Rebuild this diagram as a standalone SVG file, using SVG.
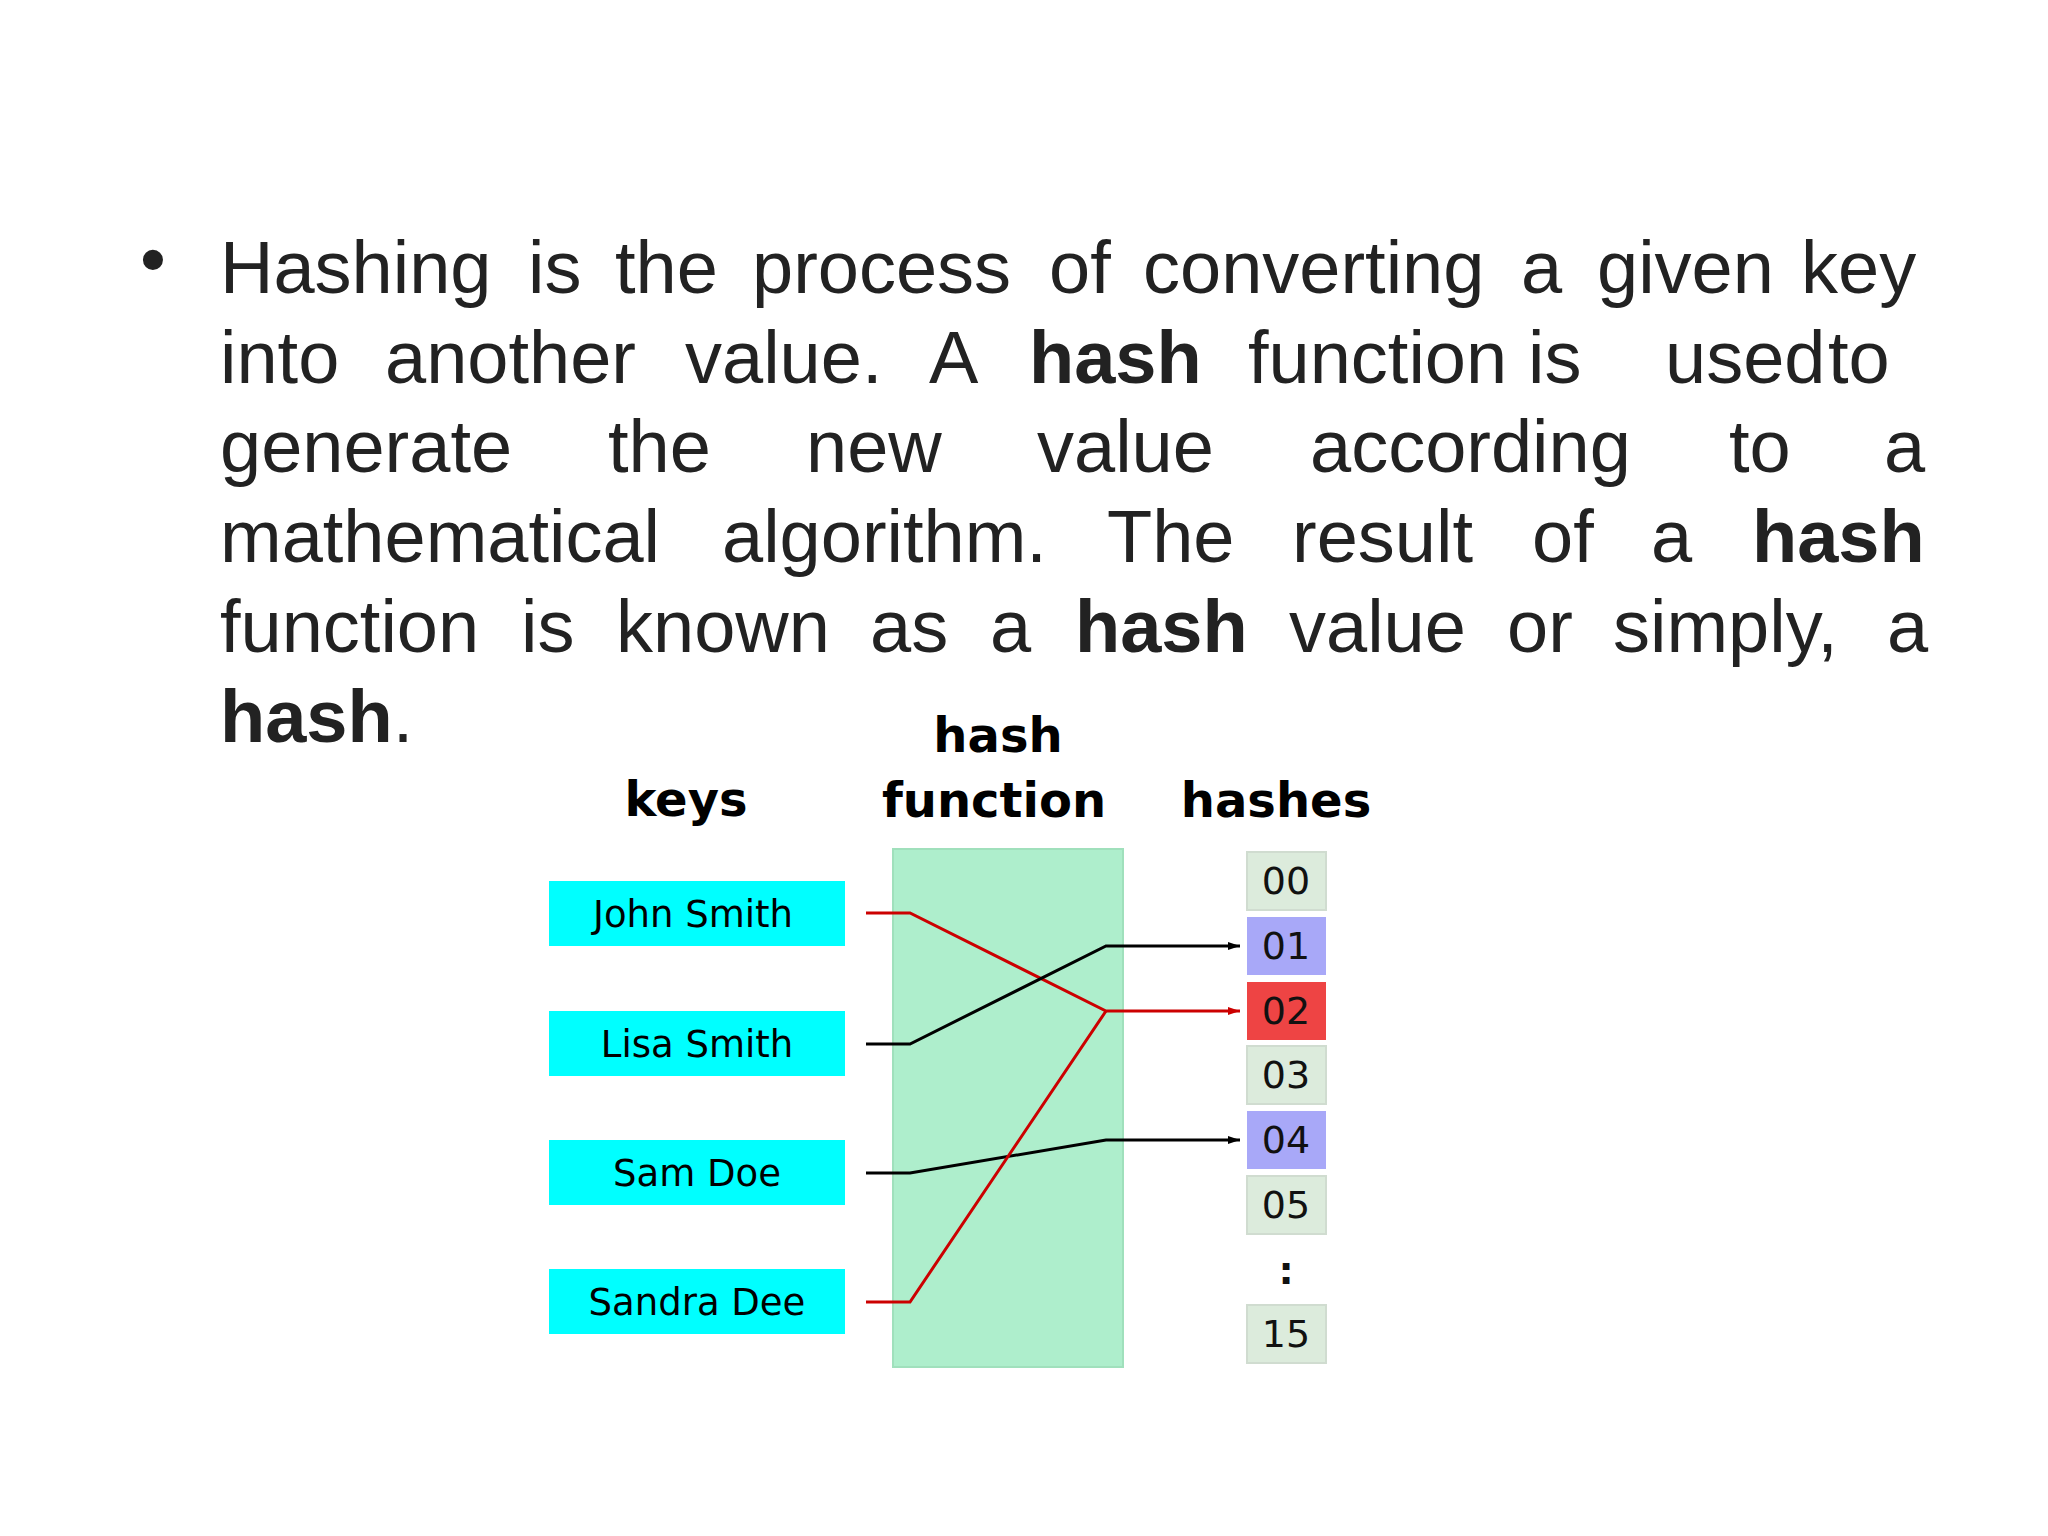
<svg xmlns="http://www.w3.org/2000/svg" width="2048" height="1536" viewBox="0 0 2048 1536">
<style>
.p{font-family:"Liberation Sans",Arial,sans-serif;font-size:74px;fill:#222}
.b{font-weight:bold}
.h{font-family:"DejaVu Sans",sans-serif;font-weight:bold;font-size:48px;fill:#000;text-anchor:middle}
.k{fill:#00ffff}
.kt{font-family:"DejaVu Sans",sans-serif;font-size:37px;fill:#000;text-anchor:middle}
.c{stroke:#d0dcd0;stroke-width:2}
.ct{font-family:"DejaVu Sans",sans-serif;font-size:38px;fill:#111;text-anchor:middle}
.bl{fill:none;stroke:#000;stroke-width:3}
.rd{fill:none;stroke:#cc0000;stroke-width:3}
</style>
<defs>
<marker id="ab" markerWidth="12" markerHeight="8" refX="12" refY="4" orient="auto" markerUnits="userSpaceOnUse" viewBox="0 0 12 8"><path d="M0,0L12,4L0,8z" fill="#000"/></marker>
<marker id="ar" markerWidth="12" markerHeight="8" refX="12" refY="4" orient="auto" markerUnits="userSpaceOnUse" viewBox="0 0 12 8"><path d="M0,0L12,4L0,8z" fill="#cc0000"/></marker>
</defs>
<rect width="2048" height="1536" fill="#fff"/>
<g id="paragraph" class="p">
<text x="140" y="285">•</text>
<text y="293"><tspan x="220">Hashing</tspan><tspan x="528">is</tspan><tspan x="615">the</tspan><tspan x="752">process</tspan><tspan x="1049">of</tspan><tspan x="1143">converting</tspan><tspan x="1521">a</tspan><tspan x="1597">given</tspan><tspan x="1801">key</tspan></text>
<text y="383"><tspan x="220">into</tspan><tspan x="385">another</tspan><tspan x="685">value.</tspan><tspan x="929">A</tspan><tspan x="1029" class="b">hash</tspan><tspan x="1248">function</tspan><tspan x="1528">is</tspan><tspan x="1665">used</tspan><tspan x="1828">to</tspan></text>
<text y="472"><tspan x="220">generate</tspan><tspan x="608">the</tspan><tspan x="806">new</tspan><tspan x="1037">value</tspan><tspan x="1310">according</tspan><tspan x="1729">to</tspan><tspan x="1884">a</tspan></text>
<text y="562"><tspan x="220">mathematical</tspan><tspan x="722">algorithm.</tspan><tspan x="1107">The</tspan><tspan x="1292">result</tspan><tspan x="1532">of</tspan><tspan x="1651">a</tspan><tspan x="1752" class="b">hash</tspan></text>
<text y="652"><tspan x="220">function</tspan><tspan x="521">is</tspan><tspan x="616">known</tspan><tspan x="870">as</tspan><tspan x="990">a</tspan><tspan x="1075" class="b">hash</tspan><tspan x="1289">value</tspan><tspan x="1507">or</tspan><tspan x="1613">simply,</tspan><tspan x="1887">a</tspan></text>
<text y="742"><tspan x="220" class="b">hash</tspan><tspan>.</tspan></text>
</g>
<g id="headers">
<text class="h" x="686" y="816">keys</text>
<text class="h" x="998" y="752">hash</text>
<text class="h" x="994" y="817">function</text>
<text class="h" x="1276" y="817">hashes</text>
</g>
<g id="hash-function"><rect x="893" y="849" width="230" height="518" fill="#aeeecc" stroke="#a0e0bc" stroke-width="2"/></g>
<g id="key-john"><rect class="k" x="549" y="881" width="296" height="65"/><text class="kt" x="693" y="927">John Smith</text></g>
<g id="key-lisa"><rect class="k" x="549" y="1011" width="296" height="65"/><text class="kt" x="697" y="1057">Lisa Smith</text></g>
<g id="key-sam"><rect class="k" x="549" y="1140" width="296" height="65"/><text class="kt" x="697" y="1186">Sam Doe</text></g>
<g id="key-sandra"><rect class="k" x="549" y="1269" width="296" height="65"/><text class="kt" x="697" y="1315">Sandra Dee</text></g>
<g id="h00"><rect class="c" x="1247" y="852" width="79" height="58" fill="#dcebdc"/><text class="ct" x="1286" y="894">00</text></g>
<g id="h01"><rect x="1247" y="917" width="79" height="58" fill="#a8a8f8"/><text class="ct" x="1286" y="959">01</text></g>
<g id="h02"><rect x="1247" y="982" width="79" height="58" fill="#ee4444"/><text class="ct" x="1286" y="1024">02</text></g>
<g id="h03"><rect class="c" x="1247" y="1046" width="79" height="58" fill="#dcebdc"/><text class="ct" x="1286" y="1088">03</text></g>
<g id="h04"><rect x="1247" y="1111" width="79" height="58" fill="#a8a8f8"/><text class="ct" x="1286" y="1153">04</text></g>
<g id="h05"><rect class="c" x="1247" y="1176" width="79" height="58" fill="#dcebdc"/><text class="ct" x="1286" y="1218">05</text></g>
<g id="dots"><text class="ct" x="1286" y="1284" font-weight="bold">:</text></g>
<g id="h15"><rect class="c" x="1247" y="1305" width="79" height="58" fill="#dcebdc"/><text class="ct" x="1286" y="1347">15</text></g>
<g id="connectors">
<polyline class="rd" points="866,913 910,913 1106,1011 1240,1011" marker-end="url(#ar)"/>
<polyline class="bl" points="866,1044 910,1044 1106,946 1240,946" marker-end="url(#ab)"/>
<polyline class="bl" points="866,1173 910,1173 1106,1140 1240,1140" marker-end="url(#ab)"/>
<polyline class="rd" points="866,1302 910,1302 1106,1011"/>
</g>
</svg>
